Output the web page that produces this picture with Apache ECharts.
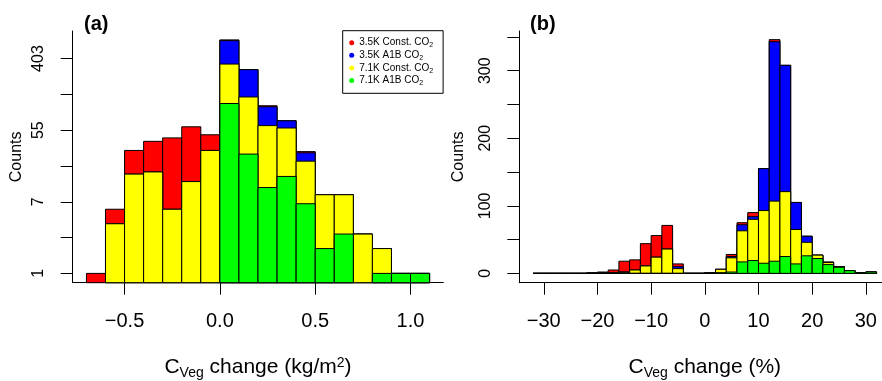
<!DOCTYPE html>
<html>
<head>
<meta charset="utf-8">
<script src="https://cdn.jsdelivr.net/npm/echarts@6/dist/echarts.min.js"></script>
<style>
  html, body { margin: 0; padding: 0; background: #fff; }
  #chart { width: 882px; height: 381px; }
</style>
</head>
<body>
<div id="chart"></div>
<script>
// panel (a): bins of 0.1 kg/m2, left edges
const binsA = [-0.7, -0.6, -0.5, -0.4, -0.3, -0.2, -0.1, 0.0, 0.1, 0.2, 0.3, 0.4, 0.5, 0.6, 0.7, 0.8, 0.9, 1.0];
const widthA = 0.1;
// counts per scenario (stacked green, yellow, blue, red from the bottom)
const aGreen  = [0, 0, 0, 0, 0, 0, 0, 115, 28, 11, 15, 7, 2, 3, 0, 1, 1, 1];
const aYellow = [0, 4, 16, 17, 6, 13, 31, 231, 110, 51, 43, 16, 7, 6, 3, 1, 0, 0];
const aBlue   = [0, 0, 0, 0, 0, 0, 0, 319, 158, 43, 13, 6, 0, 0, 0, 0, 0, 0];
const aRed    = [1, 2, 15, 23, 38, 47, 17, 15, 0, 3, 0, 1, 0, 0, 0, 0, 0, 0];
const aTickValues = [0, 1, 2, 3, 4, 5, 6];   // ln(counts)
const aLabelValues = [0, 2, 4, 6];
const aXLabels = [-0.5, 0, 0.5, 1.0];

// panel (b): bins of 2 %, left edges
const binsB = [-32, -30, -28, -26, -24, -22, -20, -18, -16, -14, -12, -10, -8, -6, -4, -2,
               0, 2, 4, 6, 8, 10, 12, 14, 16, 18, 20, 22, 24, 26, 28, 30];
const widthB = 2;
const bGreen  = [0, 0, 0, 0, 0, 0, 0, 0, 1, 0, 0, 0, 0, 0, 0, 0, 0, 1, 2, 17, 19, 15, 18, 25, 14, 26, 22, 13, 9, 4, 1, 2];
const bYellow = [0, 0, 0, 0, 0, 0, 1, 1, 1, 5, 11, 24, 36, 7, 0, 0, 1, 5, 21, 46, 61, 78, 89, 96, 51, 20, 5, 3, 1, 0, 0, 0];
const bBlue   = [0, 0, 0, 0, 0, 0, 0, 0, 0, 0, 0, 0, 0, 3, 0, 0, 0, 0, 2, 9, 4, 62, 236, 187, 40, 9, 0, 0, 0, 0, 0, 0];
const bRed    = [0, 0, 0, 0, 0, 1, 1, 4, 16, 15, 33, 32, 35, 4, 0, 0, 0, 0, 3, 3, 6, 0, 3, 0, 0, 0, 0, 1, 0, 0, 0, 0];
const bTickValues = [0, 50, 100, 150, 200, 250, 300, 350];
const bLabelValues = [0, 100, 200, 300];
const bXLabels = [-30, -20, -10, 0, 10, 20, 30];

const names = ["3.5K Const. CO2", "3.5K A1B CO2", "7.1K Const. CO2", "7.1K A1B CO2"];
const colors = ["#ff0000", "#0000ff", "#ffff00", "#00ff00"];

const aYMin = -0.26, aYMax = 6.77;
const bYMin = -13.8, bYMax = 358.8;

// cumulative tops, back layer first: red(total), blue, yellow, green
function layers(g, y, b, r) {
  const gy = g.map((v, i) => v + y[i]);
  const gyb = gy.map((v, i) => v + b[i]);
  const all = gyb.map((v, i) => v + r[i]);
  return [all, gyb, gy, g];
}

const font = "Liberation Sans, Arial, sans-serif";

function renderBars(base) {
  return function (params, api) {
    const p0 = api.coord([api.value(0), api.value(2)]);
    const p1 = api.coord([api.value(1), base]);
    return {
      type: "rect",
      shape: { x: p0[0], y: p0[1], width: p1[0] - p0[0], height: p1[1] - p0[1] },
      style: { fill: api.visual("color"), stroke: "#000", lineWidth: 1 },
    };
  };
}

const layersA = layers(aGreen, aYellow, aBlue, aRed);
const layersB = layers(bGreen, bYellow, bBlue, bRed);

const series = [];
layersA.forEach((tops, k) => {
  const data = [];
  tops.forEach((c, i) => {
    if (c > 0) data.push([binsA[i], binsA[i] + widthA, Math.log(c)]);
  });
  series.push({
    type: "custom", name: names[k], xAxisIndex: 0, yAxisIndex: 0,
    itemStyle: { color: colors[k] }, renderItem: renderBars(aYMin), data: data,
    encode: { x: [0, 1], y: 2 }, silent: true,
  });
});
layersB.forEach((tops, k) => {
  const data = tops.map((c, i) => [binsB[i], binsB[i] + widthB, c]);
  series.push({
    type: "custom", name: names[k], xAxisIndex: 1, yAxisIndex: 1,
    itemStyle: { color: colors[k] }, renderItem: renderBars(0), data: data,
    encode: { x: [0, 1], y: 2 }, silent: true,
  });
});

const axisLine = { show: true, onZero: false, lineStyle: { color: "#000", width: 1 } };
const tickStyle = { color: "#000", width: 1 };
const nameRich = {
  sub: { fontSize: 14, fontFamily: font, color: "#000", verticalAlign: "bottom", padding: [10, 0, 0, 0] },
  sup: { fontSize: 14, fontFamily: font, color: "#000", verticalAlign: "top", padding: [0, 0, 8, 0] },
};

const chart = echarts.init(document.getElementById("chart"), null, { renderer: "canvas" });
chart.setOption({
  animation: false,
  backgroundColor: "#fff",
  textStyle: { fontFamily: font },
  title: [
    { text: "(a)", left: 79, top: 9, textStyle: { fontSize: 20, fontWeight: "bold", color: "#000", fontFamily: font } },
    { text: "(b)", left: 525, top: 9, textStyle: { fontSize: 20, fontWeight: "bold", color: "#000", fontFamily: font } },
  ],
  legend: {
    data: names.map((n, k) => ({ name: n, itemStyle: { color: colors[k] } })),
    orient: "vertical",
    left: 342.7, top: 30.7,
    icon: "circle", itemWidth: 5, itemHeight: 5, itemGap: 0, itemTextGap: 7,
    padding: [5.7, 10, 6.5, 6.5],
    borderColor: "#000", borderWidth: 1,
    selectedMode: false,
    formatter: (n) => n.replace("CO2", "CO{sub|2}"),
    textStyle: {
      fontSize: 10, color: "#000", fontFamily: font, lineHeight: 12.6,
      rich: { sub: { fontSize: 7, color: "#000", fontFamily: font, verticalAlign: "bottom", padding: [4, 0, 0, 0] } },
    },
  },
  grid: [
    { left: 72.7, right: 438.7, top: 31, bottom: 98.3, outerBoundsMode: "none", containLabel: false },
    { left: 519.3, right: -8.3, top: 31, bottom: 98.3, outerBoundsMode: "none", containLabel: false },
  ],
  xAxis: [
    {
      type: "value", gridIndex: 0, min: -0.772, max: 1.172,
      axisLine: axisLine, splitLine: { show: false },
      axisTick: { show: true, length: 12, lineStyle: tickStyle, customValues: aXLabels },
      axisLabel: { customValues: aXLabels, fontSize: 20, color: "#000", margin: 29, fontFamily: font,
        formatter: (v) => (v < 0 ? "\u2212" : "") + Math.abs(v).toFixed(1) },
      name: "C{sub|Veg} change (kg/m{sup|2})", nameLocation: "middle", nameGap: 73,
      nameTextStyle: { fontSize: 21, color: "#000", fontFamily: font, rich: nameRich },
    },
    {
      type: "value", gridIndex: 1, min: -34.56, max: 34.56,
      axisLine: axisLine, splitLine: { show: false },
      axisTick: { show: true, length: 12, lineStyle: tickStyle, customValues: bXLabels },
      axisLabel: { customValues: bXLabels, fontSize: 20, color: "#000", margin: 29, fontFamily: font,
        formatter: (v) => (v < 0 ? "\u2212" : "") + Math.abs(v) },
      name: "C{sub|Veg} change (%)", nameLocation: "middle", nameGap: 73,
      nameTextStyle: { fontSize: 21, color: "#000", fontFamily: font, rich: nameRich },
    },
  ],
  yAxis: [
    {
      type: "value", gridIndex: 0, min: aYMin, max: aYMax,
      axisLine: axisLine, splitLine: { show: false },
      axisTick: { show: true, length: 12, lineStyle: tickStyle, customValues: aTickValues },
      axisLabel: { customValues: aLabelValues, rotate: 90, fontSize: 16, color: "#000", margin: 26, fontFamily: font,
        formatter: (v) => String(Math.round(Math.exp(v))) },
      name: "Counts", nameLocation: "middle", nameGap: 48,
      nameTextStyle: { fontSize: 16, color: "#000", fontFamily: font },
    },
    {
      type: "value", gridIndex: 1, min: bYMin, max: bYMax,
      axisLine: axisLine, splitLine: { show: false },
      axisTick: { show: true, length: 12, lineStyle: tickStyle, customValues: bTickValues },
      axisLabel: { customValues: bLabelValues, rotate: 90, fontSize: 16, color: "#000", margin: 26, fontFamily: font },
      name: "Counts", nameLocation: "middle", nameGap: 53,
      nameTextStyle: { fontSize: 16, color: "#000", fontFamily: font },
    },
  ],
  series: series,
});
</script>
</body>
</html>
